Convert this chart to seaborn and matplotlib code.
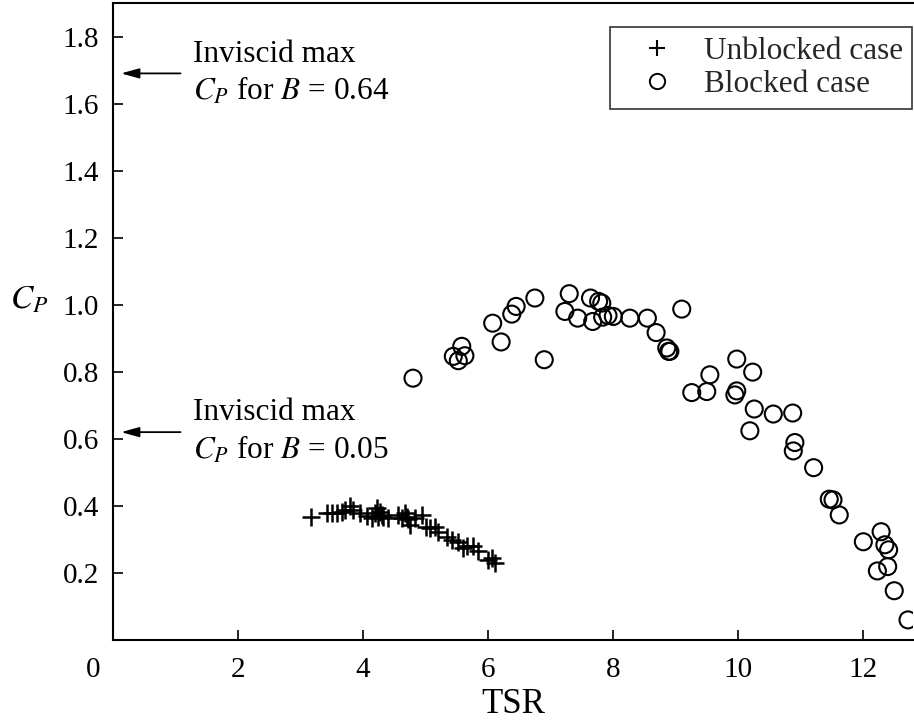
import numpy as np
import pandas as pd
import matplotlib
matplotlib.use("Agg")
import matplotlib.pyplot as plt
import matplotlib.transforms as mtransforms
from matplotlib.lines import Line2D
import seaborn as sns

# Unblocked case (+)
unb_tsr = [3.16, 3.42, 3.50, 3.58, 3.66, 3.71, 3.79, 3.845, 3.95, 4.06, 4.14, 4.19,
           4.22, 4.245, 4.27, 4.30, 4.32, 4.40, 4.565, 4.62, 4.67, 4.70, 4.725, 4.75,
           4.83, 4.94, 5.00, 5.07, 5.15, 5.20, 5.34, 5.42, 5.525, 5.60, 5.66, 5.765,
           5.845, 6.005, 6.06, 6.11]
unb_cp = [0.366, 0.378, 0.378, 0.378, 0.383, 0.388, 0.400, 0.388, 0.378, 0.370, 0.363, 0.378,
          0.393, 0.368, 0.383, 0.373, 0.368, 0.363, 0.373, 0.363, 0.378, 0.368, 0.360, 0.343,
          0.363, 0.373, 0.338, 0.333, 0.338, 0.323, 0.306, 0.299, 0.291, 0.274, 0.279, 0.279,
          0.264, 0.239, 0.244, 0.231]

# Blocked case (o)
blk_tsr = [4.80, 5.445, 5.525, 5.58, 5.63, 6.075, 6.21, 6.38, 6.45, 6.75, 6.90, 7.23,
           7.30, 7.435, 7.64, 7.675, 7.77, 7.82, 7.835, 7.92, 8.005, 8.27, 8.55, 8.69,
           8.86, 8.89, 8.91, 9.10, 9.26, 9.50, 9.55, 9.98, 9.95, 9.98, 10.235, 10.26,
           10.19, 10.565, 10.875, 10.91, 10.885, 11.21, 11.46, 11.52, 11.62, 12.005,
           12.29, 12.35, 12.41, 12.23, 12.395, 12.50, 12.72]
blk_cp = [0.781, 0.846, 0.833, 0.876, 0.848, 0.945, 0.889, 0.972, 0.995, 1.020, 0.836, 0.980,
          1.033, 0.960, 1.020, 0.950, 1.010, 1.005, 0.963, 0.968, 0.965, 0.960, 0.960, 0.917,
          0.871, 0.861, 0.861, 0.987, 0.738, 0.741, 0.791, 0.838, 0.731, 0.743, 0.799, 0.689,
          0.624, 0.674, 0.677, 0.589, 0.564, 0.514, 0.420, 0.418, 0.373, 0.293,
          0.323, 0.284, 0.269, 0.206, 0.219, 0.147, 0.060]

inviscid_cp = [1.69, 0.62]
inviscid_labels = ["Inviscid max\n$C_P$ for $B$ = 0.64", "Inviscid max\n$C_P$ for $B$ = 0.05"]

xticks = [0, 2, 4, 6, 8, 10, 12]
yticks = [0.2, 0.4, 0.6, 0.8, 1.0, 1.2, 1.4, 1.6, 1.8]

sns.set_theme(style="white")
plt.rcParams["font.family"] = ["Liberation Serif", "DejaVu Serif"]
plt.rcParams["mathtext.fontset"] = "stix"

fig = plt.figure(figsize=(9.14, 7.21), dpi=100)
ax = fig.add_axes([113/914, 1 - 640/721, (913 - 113)/914, (640 - 3)/721])

df_u = pd.DataFrame({"TSR": unb_tsr, "CP": unb_cp})
df_b = pd.DataFrame({"TSR": blk_tsr, "CP": blk_cp})

sns.scatterplot(data=df_u, x="TSR", y="CP", marker="+", s=160, color="black",
                linewidth=1.8, ax=ax, clip_on=False)
sns.scatterplot(data=df_b, x="TSR", y="CP", marker="o", s=150, facecolor="none",
                edgecolor="black", linewidth=1.5, ax=ax, clip_on=True)

ax.set_xlim(0, 12.8)
ax.set_ylim(0, 1.9)
ax.set_xticks(xticks)
ax.set_xticklabels([str(t) for t in xticks])
ax.set_yticks(yticks)
ax.set_yticklabels([f"{t:.1f}" for t in yticks])
ax.tick_params(axis="both", which="both", direction="in", length=7, width=1.2,
               labelsize=21, colors="black", bottom=True, left=True, top=False, right=False)
ax.tick_params(axis="x", pad=12)
ax.tick_params(axis="y", pad=10)

# shift "0" label to the corner
lbl0 = ax.get_xticklabels()[0]
lbl0.set_transform(lbl0.get_transform() + mtransforms.ScaledTranslation(-20/100, 0, fig.dpi_scale_trans))

for sp in ax.spines.values():
    sp.set_color("black")
    sp.set_linewidth(1.5)
ax.spines["right"].set_visible(False)

ax.set_xlabel("TSR", fontsize=25, color="black", labelpad=4)
ax.set_ylabel("$C_P$", fontsize=24, color="black", rotation=0, labelpad=30)
ax.yaxis.set_label_coords(-0.105, 0.51)

for cp, txt in zip(inviscid_cp, inviscid_labels):
    ax.annotate("", xy=(0.13, cp), xytext=(1.08, cp),
                arrowprops=dict(arrowstyle="-|>,head_length=0.9,head_width=0.25",
                                color="black", lw=1.3, shrinkA=0, shrinkB=0))
    ax.text(1.28, cp, txt, fontsize=22.5, va="center", ha="left", color="black",
            linespacing=1.3)

handles = [Line2D([], [], marker="+", linestyle="none", color="black", markersize=12, markeredgewidth=1.5),
           Line2D([], [], marker="o", linestyle="none", markerfacecolor="none",
                  markeredgecolor="black", markersize=11, markeredgewidth=1.4)]
leg = ax.legend(handles, ["Unblocked case", "Blocked case"], loc="upper right",
                fontsize=22.5, frameon=True, fancybox=False, edgecolor="black",
                borderpad=0.3, handletextpad=0.3, handlelength=2.4, labelspacing=0.15,
                borderaxespad=0, bbox_to_anchor=(0.999, 0.962))
leg.get_frame().set_linewidth(1.2)

fig.savefig("out.png", dpi=100, facecolor="white")
